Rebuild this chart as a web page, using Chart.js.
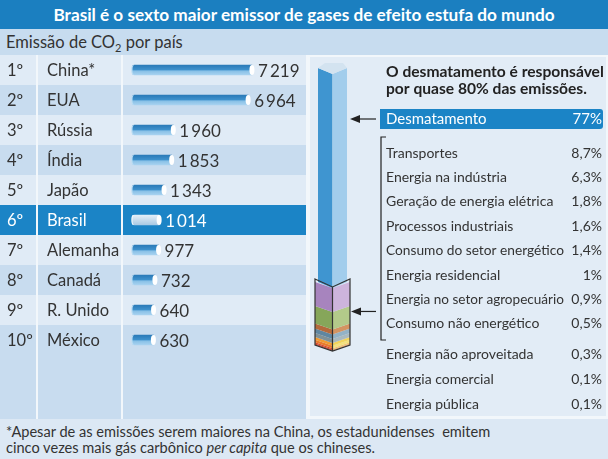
<!DOCTYPE html>
<html>
<head>
<meta charset="utf-8">
<script src="https://cdn.jsdelivr.net/npm/chart.js@4.4.1/dist/chart.umd.min.js"></script>
<style>
  body { margin: 0; width: 608px; height: 459px; overflow: hidden; position: relative;
         background: #dce8f4; font-family: Lato, "Open Sans", sans-serif; color: #333; }
  #title { position: absolute; left: 0; top: 0; width: 608px; height: 29px; line-height: 29px;
           background: #1b7fc0; color: #fff; font-weight: bold; font-size: 17.2px; text-align: center; }
  #sub { position: absolute; left: 0; top: 29px; width: 602px; height: 26px; line-height: 26px;
         padding-left: 6px; background: #c7dcef; font-size: 16.5px; }
  #left { position: absolute; left: 0; top: 55px; }
  #right { position: absolute; left: 308px; top: 55px; }
  #note { position: absolute; left: 6px; top: 424px; font-size: 14.6px; line-height: 16px; }
</style>
</head>
<body>
<div id="title">Brasil é o sexto maior emissor de gases de efeito estufa do mundo</div>
<div id="sub">Emissão de CO<sub style="font-size:11px">2</sub> por país</div>
<canvas id="left" width="308" height="364"></canvas>
<canvas id="right" width="300" height="364"></canvas>
<div id="note">*Apesar de as emissões serem maiores na China, os estadunidenses&nbsp; emitem<br>cinco vezes mais gás carbônico <i>per capita</i> que os chineses.</div>
<script>
// emissões de CO2 por país (ranking)
const ranks = ['1º', '2º', '3º', '4º', '5º', '6º', '7º', '8º', '9º', '10º'];
const countries = ['China*', 'EUA', 'Rússia', 'Índia', 'Japão', 'Brasil', 'Alemanha', 'Canadá', 'R. Unido', 'México'];
const emissions = [7219, 6964, 1960, 1853, 1343, 1014, 977, 732, 640, 630];

// emissões do Brasil por setor (%)
const sectors = ['Desmatamento', 'Transportes', 'Energia na indústria', 'Geração de energia elétrica',
  'Processos industriais', 'Consumo do setor energético', 'Energia residencial',
  'Energia no setor agropecuário', 'Consumo não energético', 'Energia não aproveitada',
  'Energia comercial', 'Energia pública'];
const shares = [77, 8.7, 6.3, 1.8, 1.6, 1.4, 1, 0.9, 0.5, 0.3, 0.1, 0.1];

// [face escura, face clara] para cada setor
const sectorColors = [
  ['#3f95d0', '#a2cdec'], ['#a784be', '#cdb4dc'], ['#86a65a', '#b3ca8a'], ['#b46a3c', '#d39462'],
  ['#5f86a0', '#93b2c6'], ['#7f9197', '#aab9be'], ['#f09a30', '#f2d45c'], ['#ea7a2c', '#f5e27c'],
  ['#d8482a', '#f1c26e'], ['#c83a20', '#eba868'], ['#c83a20', '#eba868'], ['#c83a20', '#eba868']
];

const BRASIL = countries.indexOf('Brasil');
const FONT = 'Lato, "Open Sans", sans-serif';
const fmtNum = n => String(n).replace(/\B(?=(\d{3})+(?!\d))/g, '\u2009');
const fmtPct = v => String(v).replace('.', ',') + '%';

// ---------- ranking de países ----------
const leftDeco = {
  id: 'leftDeco',
  beforeDraw(chart) {
    const { ctx, scales: { y } } = chart;
    const W = chart.width, H = chart.height;
    const band = y.getPixelForValue(1) - y.getPixelForValue(0);
    countries.forEach((c, i) => {
      const top = y.getPixelForValue(i) - band / 2;
      const h = i === countries.length - 1 ? H - top : band;
      ctx.fillStyle = i === BRASIL ? '#1b84c6' : (i % 2 ? '#c8dcef' : '#e0ebf6');
      ctx.fillRect(0, top, W, h);
    });
    ctx.fillStyle = '#f2f7fb';
    ctx.fillRect(36, 0, 2, H);
    ctx.fillRect(121, 0, 2, H);
    ctx.fillRect(W - 2, 0, 2, H);
  },
  afterDatasetsDraw(chart) {
    const { ctx, scales: { y } } = chart;
    const meta = chart.getDatasetMeta(0);
    ctx.save();
    ctx.textBaseline = 'middle';
    countries.forEach((c, i) => {
      const yc = y.getPixelForValue(i) + 1;
      const txt = i === BRASIL ? '#fff' : '#333';
      ctx.fillStyle = txt;
      ctx.font = '16.5px ' + FONT;
      ctx.fillText(ranks[i], 7, yc);
      ctx.fillText(c, 47, yc);
      const bar = meta.data[i];
      // ponta esquerda clara
      ctx.strokeStyle = i === BRASIL ? '#f4f9fd' : '#b9dcf3';
      ctx.lineWidth = 1.2;
      ctx.beginPath();
      ctx.ellipse(bar.base + 1.5, bar.y, 1.6, bar.height / 2 - 0.5, 0, Math.PI / 2, Math.PI * 1.5);
      ctx.stroke();
      // tampa direita
      ctx.fillStyle = '#fff';
      ctx.beginPath();
      ctx.ellipse(bar.x, bar.y, 2.5, bar.height / 2, 0, 0, Math.PI * 2);
      ctx.fill();
      ctx.fillStyle = txt;
      ctx.font = '17px ' + FONT;
      ctx.fillText(fmtNum(emissions[i]), bar.x + 6, yc + 1);
    });
    ctx.restore();
  }
};

new Chart(document.getElementById('left'), {
  type: 'bar',
  data: {
    labels: countries,
    datasets: [{
      data: emissions,
      base: -800,
      barThickness: 10,
      borderRadius: { topLeft: 3, bottomLeft: 3, topRight: 0, bottomRight: 0 },
      borderSkipped: false,
      backgroundColor: c => {
        const chart = c.chart;
        if (!chart.chartArea || !chart.scales.y) return '#4a9ad2';
        const yc = chart.scales.y.getPixelForValue(c.dataIndex);
        const g = chart.ctx.createLinearGradient(0, yc - 5, 0, yc + 5);
        if (c.dataIndex === BRASIL) {
          g.addColorStop(0, '#e4eff8'); g.addColorStop(1, '#a9c9e3');
        } else {
          g.addColorStop(0, '#2a7ab8'); g.addColorStop(0.5, '#3f92cd');
          g.addColorStop(0.58, '#86bfe6'); g.addColorStop(1, '#a8d2f0');
        }
        return g;
      }
    }]
  },
  options: {
    indexAxis: 'y',
    responsive: false,
    animation: false,
    devicePixelRatio: 1,
    layout: { padding: { left: 132, right: 1, top: 0, bottom: 64 } },
    plugins: { legend: { display: false }, tooltip: { enabled: false } },
    scales: {
      x: { display: false, min: -800, max: 10900 },
      y: { display: false, offset: true }
    }
  },
  plugins: [leftDeco]
});

// ---------- coluna de setores ----------
const V = 6; // profundidade do "V" do prisma
function halfFaces(ctx, l, x, r, top, base, cols) {
  ctx.fillStyle = cols[0];
  ctx.beginPath();
  ctx.moveTo(l, top); ctx.lineTo(x, top + V); ctx.lineTo(x, base + V); ctx.lineTo(l, base);
  ctx.closePath(); ctx.fill();
  ctx.fillStyle = cols[1];
  ctx.beginPath();
  ctx.moveTo(x, top + V); ctx.lineTo(r, top); ctx.lineTo(r, base); ctx.lineTo(x, base + V);
  ctx.closePath(); ctx.fill();
}

function arrow(ctx, x1, x2, y) {
  ctx.strokeStyle = '#222'; ctx.fillStyle = '#222'; ctx.lineWidth = 1.2;
  ctx.beginPath(); ctx.moveTo(x1, y); ctx.lineTo(x2 + 8, y); ctx.stroke();
  ctx.beginPath(); ctx.moveTo(x2, y); ctx.lineTo(x2 + 10, y - 4); ctx.lineTo(x2 + 10, y + 4);
  ctx.closePath(); ctx.fill();
}

const columnDeco = {
  id: 'columnDeco',
  beforeDraw(chart) {
    const { ctx } = chart;
    const W = chart.width, H = chart.height;
    ctx.fillStyle = '#f2f7fb';
    ctx.fillRect(0, 0, W, H);
    ctx.fillStyle = '#e2ecf6';
    ctx.fillRect(2, 2, W - 4, H - 5);
  },
  beforeDatasetDraw() { return false; },
  afterDatasetsDraw(chart) {
    const { ctx } = chart;
    ctx.save();
    const n = chart.data.datasets.length;
    let boxTop = 0, boxBase = 0, boxL = 0, boxR = 0, cx = 0;
    for (let d = 0; d < n; d++) {
      const el = chart.getDatasetMeta(d).data[0];
      const k = sectors.length - 1 - d; // índice no array original
      const wide = k > 0 ? 3 : 0;
      const l = el.x - el.width / 2 - wide, r = el.x + el.width / 2 + wide;
      halfFaces(ctx, l, el.x, r, el.y, el.base, sectorColors[k]);
      if (k === 0) {
        // tampa superior
        ctx.fillStyle = '#d3e3f0';
        ctx.beginPath();
        ctx.moveTo(l, el.y); ctx.lineTo(l + 7, el.y - 5); ctx.lineTo(r - 4, el.y - 5);
        ctx.lineTo(r, el.y); ctx.lineTo(el.x, el.y + V); ctx.closePath(); ctx.fill();
      }
      if (k === 1) { boxTop = el.y; boxL = l; boxR = r; cx = el.x; }
      if (d === 0) boxBase = el.base;
    }
    // contorno da parte ampliada
    ctx.strokeStyle = '#333'; ctx.lineWidth = 1.2;
    ctx.beginPath();
    ctx.moveTo(boxL, boxTop - 3); ctx.lineTo(cx, boxTop + V - 1); ctx.lineTo(boxR, boxTop - 3);
    ctx.lineTo(boxR, boxBase); ctx.lineTo(cx, boxBase + V); ctx.lineTo(boxL, boxBase);
    ctx.closePath(); ctx.stroke();
    ctx.beginPath(); ctx.moveTo(cx, boxTop + V - 1); ctx.lineTo(cx, boxBase + V); ctx.stroke();

    // setas
    arrow(ctx, 68, 42, 64);
    arrow(ctx, 68, 43, (boxTop + boxBase) / 2 - 2);

    // chave
    ctx.beginPath();
    ctx.moveTo(78, 82); ctx.lineTo(73, 82); ctx.lineTo(73, 285); ctx.lineTo(78, 285);
    ctx.stroke();

    // textos
    ctx.textBaseline = 'middle';
    ctx.fillStyle = '#222';
    ctx.font = 'bold 15.6px ' + FONT;
    ctx.fillText('O desmatamento é responsável', 78, 17);
    ctx.fillText('por quase 80% das emissões.', 78, 34);

    ctx.fillStyle = '#1b84c6';
    ctx.beginPath();
    ctx.roundRect(72, 54, 223, 20, [0, 3, 3, 0]);
    ctx.fill();

    sectors.forEach((s, i) => {
      let yc;
      if (i === 0) yc = 64;
      else if (i <= 8) yc = 98 + (i - 1) * 24.4;
      else yc = 299 + (i - 9) * 25;
      ctx.fillStyle = i === 0 ? '#fff' : '#333';
      ctx.font = (i === 0 ? '15px ' : '14px ') + FONT;
      ctx.textAlign = 'left';
      ctx.fillText(s, 78, yc, 178);
      ctx.textAlign = 'right';
      ctx.fillText(fmtPct(shares[i]), 294, yc);
    });
    ctx.restore();
  }
};

const total = shares.reduce((a, b) => a + b, 0);
new Chart(document.getElementById('right'), {
  type: 'bar',
  data: {
    labels: [''],
    datasets: sectors.map((s, i) => ({ label: s, data: [shares[i]] })).reverse()
  },
  options: {
    responsive: false,
    animation: false,
    devicePixelRatio: 1,
    layout: { padding: { left: 10, right: 261, top: 13, bottom: 74 } },
    datasets: { bar: { barPercentage: 1, categoryPercentage: 1 } },
    plugins: { legend: { display: false }, tooltip: { enabled: false } },
    scales: {
      x: { display: false, stacked: true },
      y: { display: false, stacked: true, min: 0, max: total }
    }
  },
  plugins: [columnDeco]
});
</script>
</body>
</html>
